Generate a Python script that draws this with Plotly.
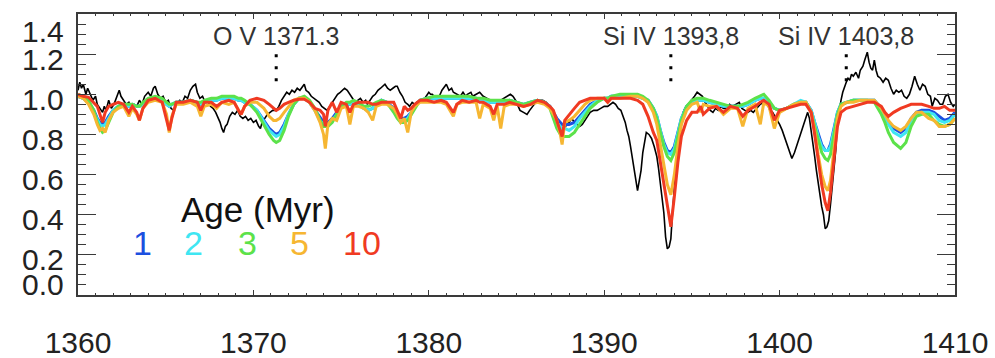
import plotly.graph_objects as go

# Observed spectrum (normalised flux)
obs_wave = [
    1360.0, 1360.1, 1360.2, 1360.3, 1360.45, 1360.55, 1360.7, 1360.85, 1361.0, 1361.1,
    1361.25, 1361.4, 1361.5, 1361.6, 1361.75, 1361.9, 1362.05, 1362.2, 1362.35, 1362.45,
    1362.6, 1362.75, 1362.9, 1363.05, 1363.2, 1363.35, 1363.5, 1363.65, 1363.8, 1364.0,
    1364.15, 1364.3, 1364.4, 1364.55, 1364.7, 1364.85, 1365.0, 1365.15, 1365.3, 1365.45,
    1365.6, 1365.8, 1365.95, 1366.1, 1366.25, 1366.4, 1366.55, 1366.7, 1366.8, 1366.95,
    1367.1, 1367.25, 1367.4, 1367.55, 1367.7, 1367.85, 1368.0, 1368.1, 1368.2, 1368.3,
    1368.4, 1368.5, 1368.65, 1368.8, 1368.95, 1369.1, 1369.25, 1369.4, 1369.55, 1369.7,
    1369.85, 1370.0, 1370.15, 1370.3, 1370.4, 1370.5, 1370.65, 1370.8, 1370.95, 1371.1,
    1371.3, 1371.45, 1371.6, 1371.75, 1371.9, 1372.05, 1372.2, 1372.35, 1372.5, 1372.65,
    1372.8, 1372.9, 1373.0, 1373.15, 1373.3, 1373.45, 1373.6, 1373.75, 1373.9, 1374.05,
    1374.2, 1374.35, 1374.5, 1374.65, 1374.8, 1374.95, 1375.1, 1375.2, 1375.35, 1375.5,
    1375.65, 1375.8, 1375.95, 1376.1, 1376.25, 1376.4, 1376.5, 1376.65, 1376.8, 1376.95,
    1377.1, 1377.25, 1377.4, 1377.5, 1377.65, 1377.8, 1377.95, 1378.1, 1378.2, 1378.35,
    1378.5, 1378.65, 1378.8, 1378.9, 1379.05, 1379.2, 1379.3, 1379.5, 1379.7, 1379.85,
    1380.0, 1380.1, 1380.2, 1380.4, 1380.6, 1380.75, 1380.9, 1381.0, 1381.15, 1381.3,
    1381.4, 1381.6, 1381.8, 1381.95, 1382.1, 1382.2, 1382.4, 1382.5, 1382.7, 1382.9,
    1383.1, 1383.3, 1383.5, 1383.7, 1383.9, 1384.1, 1384.3, 1384.5, 1384.65, 1384.8,
    1384.95, 1385.1, 1385.2, 1385.4, 1385.6, 1385.75, 1385.9, 1386.1, 1386.3, 1386.5,
    1386.7, 1386.9, 1387.1, 1387.25, 1387.4, 1387.55, 1387.7, 1387.85, 1388.0, 1388.15,
    1388.3, 1388.45, 1388.6, 1388.75, 1388.9, 1389.05, 1389.2, 1389.4, 1389.6, 1389.8,
    1390.0, 1390.2, 1390.35, 1390.5, 1390.65, 1390.8, 1390.95, 1391.1, 1391.2, 1391.3,
    1391.4, 1391.5, 1391.6, 1391.7, 1391.8, 1391.9, 1392.0, 1392.1, 1392.2, 1392.3,
    1392.4, 1392.55, 1392.7, 1392.85, 1393.0, 1393.1, 1393.2, 1393.3, 1393.4, 1393.5,
    1393.6, 1393.7, 1393.8, 1393.9, 1394.0, 1394.1, 1394.2, 1394.3, 1394.4, 1394.5,
    1394.6, 1394.7, 1394.85, 1395.0, 1395.15, 1395.3, 1395.45, 1395.6, 1395.75, 1395.9,
    1396.05, 1396.2, 1396.35, 1396.5, 1396.65, 1396.8, 1397.0, 1397.15, 1397.3, 1397.5,
    1397.7, 1397.85, 1398.0, 1398.2, 1398.35, 1398.5, 1398.7, 1398.9, 1399.1, 1399.3,
    1399.45, 1399.6, 1399.8, 1400.0, 1400.15, 1400.3, 1400.45, 1400.6, 1400.7, 1400.85,
    1401.0, 1401.15, 1401.3, 1401.45, 1401.6, 1401.7, 1401.8, 1401.9, 1402.0, 1402.1,
    1402.2, 1402.3, 1402.4, 1402.5, 1402.6, 1402.7, 1402.8, 1402.9, 1403.0, 1403.1,
    1403.2, 1403.3, 1403.4, 1403.5, 1403.6, 1403.7, 1403.8, 1403.9, 1404.0, 1404.1,
    1404.2, 1404.35, 1404.5, 1404.6, 1404.75, 1404.85, 1405.0, 1405.1, 1405.2, 1405.3,
    1405.4, 1405.5, 1405.6, 1405.75, 1405.9, 1406.05, 1406.2, 1406.35, 1406.5, 1406.65,
    1406.8, 1406.95, 1407.1, 1407.25, 1407.4, 1407.55, 1407.7, 1407.85, 1408.0, 1408.15,
    1408.3, 1408.45, 1408.6, 1408.7, 1408.85, 1409.0, 1409.15, 1409.3, 1409.45, 1409.6,
    1409.75, 1409.9, 1410.0,
]
obs_flux = [
    1.02, 1.06, 1.03, 1.05, 1.00, 1.03, 1.00, 0.97, 0.99, 0.95,
    0.93, 0.91, 0.94, 0.92, 0.97, 0.93, 0.95, 0.99, 1.02, 0.99,
    0.97, 0.95, 0.96, 0.93, 0.95, 0.94, 0.97, 0.95, 0.99, 1.01,
    0.99, 1.03, 1.04, 1.00, 0.98, 0.99, 0.96, 0.97, 0.93, 0.92,
    0.95, 0.97, 0.96, 0.99, 0.98, 1.02, 1.04, 1.05, 1.01, 0.98,
    0.99, 0.96, 0.97, 0.94, 0.93, 0.91, 0.88, 0.86, 0.83, 0.81,
    0.84, 0.85, 0.89, 0.91, 0.90, 0.92, 0.89, 0.88, 0.89, 0.87,
    0.88, 0.86, 0.87, 0.84, 0.83, 0.86, 0.88, 0.90, 0.91, 0.92,
    0.92, 0.94, 0.97, 0.99, 1.01, 1.00, 1.02, 1.01, 1.03, 1.02,
    1.04, 1.05, 1.02, 1.01, 0.99, 0.98, 0.97, 0.96, 0.94, 0.93,
    0.92, 0.94, 0.96, 0.98, 1.00, 1.01, 1.02, 1.03, 1.02, 1.00,
    0.98, 0.96, 0.97, 0.98, 0.96, 0.97, 0.95, 0.97, 0.99, 1.00,
    1.02, 1.03, 1.04, 1.05, 1.03, 1.02, 1.03, 1.04, 1.04, 1.01,
    0.99, 0.96, 0.95, 0.94, 0.96, 0.95, 0.96, 0.97, 0.97, 0.99,
    1.01, 1.00, 1.00, 0.98, 0.99, 1.02, 1.04, 1.05, 1.02, 1.03,
    1.01, 1.00, 0.99, 1.01, 0.99, 1.00, 1.01, 0.99, 1.00, 1.01,
    0.99, 0.98, 0.97, 0.96, 0.96, 0.97, 0.98, 0.99, 1.00, 0.99,
    0.97, 0.94, 0.92, 0.91, 0.90, 0.92, 0.94, 0.96, 0.97, 0.97,
    0.96, 0.94, 0.92, 0.88, 0.84, 0.83, 0.82, 0.85, 0.86, 0.88,
    0.86, 0.85, 0.84, 0.85, 0.87, 0.89, 0.91, 0.92, 0.92, 0.93,
    0.94, 0.94, 0.95, 0.96, 0.95, 0.93, 0.92, 0.88, 0.86, 0.82,
    0.79, 0.74, 0.69, 0.63, 0.57, 0.52, 0.57, 0.62, 0.71, 0.77,
    0.81, 0.80, 0.78, 0.74, 0.69, 0.63, 0.56, 0.48, 0.41, 0.29,
    0.23, 0.24, 0.28, 0.42, 0.54, 0.64, 0.72, 0.79, 0.86, 0.91,
    0.93, 0.94, 0.96, 0.97, 0.99, 1.01, 1.00, 0.99, 0.96, 0.94,
    0.92, 0.91, 0.93, 0.92, 0.94, 0.93, 0.93, 0.95, 0.94, 0.95,
    0.96, 0.93, 0.92, 0.91, 0.92, 0.91, 0.93, 0.95, 0.96, 0.95,
    0.92, 0.91, 0.88, 0.85, 0.82, 0.78, 0.75, 0.70, 0.68, 0.71,
    0.75, 0.80, 0.84, 0.88, 0.91, 0.88, 0.82, 0.77, 0.69, 0.62,
    0.55, 0.49, 0.44, 0.40, 0.33, 0.34, 0.37, 0.45, 0.54, 0.63,
    0.72, 0.86, 0.92, 0.97, 1.01, 1.04, 1.06, 1.08, 1.07, 1.10,
    1.09, 1.11, 1.08, 1.12, 1.14, 1.17, 1.21, 1.16, 1.13, 1.12,
    1.17, 1.12, 1.09, 1.08, 1.06, 1.08, 1.07, 1.03, 1.00, 1.02,
    1.01, 1.02, 0.99, 0.98, 1.00, 1.04, 1.09, 1.05, 1.02, 1.05,
    1.04, 1.00, 0.99, 0.94, 0.98, 0.97, 0.95, 0.95, 0.99, 1.00,
    0.96, 0.94, 0.95,
]

# Synthetic population spectra on a common wavelength grid
model_wave = [
    1360.0, 1360.3, 1360.6, 1360.9, 1361.1, 1361.25, 1361.4, 1361.55, 1361.75, 1362.0,
    1362.3, 1362.6, 1362.9, 1363.1, 1363.35, 1363.5, 1363.7, 1364.0, 1364.4, 1364.8,
    1365.05, 1365.2, 1365.35, 1365.6, 1366.0, 1366.4, 1366.8, 1367.0, 1367.2, 1367.6,
    1367.9, 1368.2, 1368.6, 1368.9, 1369.15, 1369.3, 1369.5, 1369.8, 1370.2, 1370.6,
    1370.9, 1371.15, 1371.3, 1371.5, 1371.75, 1372.0, 1372.3, 1372.6, 1372.9, 1373.2,
    1373.5, 1373.8, 1374.0, 1374.1, 1374.25, 1374.5, 1374.75, 1375.0, 1375.3, 1375.5,
    1375.7, 1376.0, 1376.3, 1376.55, 1376.8, 1377.0, 1377.3, 1377.6, 1378.0, 1378.2,
    1378.4, 1378.6, 1378.8, 1379.0, 1379.2, 1379.5, 1379.9, 1380.3, 1380.7, 1381.0,
    1381.4, 1381.6, 1381.9, 1382.3, 1382.7, 1382.9, 1383.1, 1383.5, 1383.7, 1383.9,
    1384.1, 1384.3, 1384.6, 1385.0, 1385.4, 1385.8, 1386.2, 1386.6, 1386.9, 1387.1,
    1387.3, 1387.5, 1387.6, 1387.75, 1388.0, 1388.3, 1388.6, 1388.9, 1389.2, 1389.6,
    1390.0, 1390.2, 1390.4, 1390.9, 1391.5, 1391.9, 1392.2, 1392.5, 1392.8, 1393.0,
    1393.2, 1393.4, 1393.6, 1393.8, 1394.0, 1394.2, 1394.4, 1394.7, 1395.0, 1395.3,
    1395.5, 1395.65, 1396.0, 1396.4, 1396.8, 1397.2, 1397.6, 1397.9, 1398.2, 1398.6,
    1398.9, 1399.1, 1399.4, 1399.7, 1400.0, 1400.4, 1400.8, 1401.2, 1401.5, 1401.8,
    1402.0, 1402.2, 1402.4, 1402.6, 1402.75, 1402.9, 1403.1, 1403.3, 1403.5, 1403.8,
    1404.2, 1404.6, 1405.0, 1405.4, 1405.8, 1406.0, 1406.2, 1406.5, 1406.9, 1407.2,
    1407.5, 1407.8, 1408.1, 1408.5, 1408.8, 1409.1, 1409.4, 1409.7, 1410.0,
]
flux_1myr = [
    0.99, 0.98, 0.96, 0.92, 0.88, 0.86, 0.85, 0.86, 0.89, 0.92,
    0.94, 0.95, 0.94, 0.95, 0.94, 0.94, 0.95, 0.97, 0.98, 0.97,
    0.95, 0.94, 0.95, 0.96, 0.96, 0.97, 0.96, 0.95, 0.96, 0.97,
    0.97, 0.98, 0.98, 0.98, 0.97, 0.97, 0.96, 0.95, 0.92, 0.87,
    0.83, 0.81, 0.80, 0.81, 0.85, 0.90, 0.95, 0.98, 0.98, 0.96,
    0.92, 0.88, 0.86, 0.86, 0.86, 0.88, 0.91, 0.94, 0.95, 0.95,
    0.96, 0.95, 0.93, 0.92, 0.93, 0.95, 0.97, 0.96, 0.93, 0.90,
    0.88, 0.88, 0.89, 0.91, 0.94, 0.97, 0.98, 0.98, 0.98, 0.98,
    0.98, 0.98, 0.98, 0.98, 0.98, 0.97, 0.97, 0.96, 0.96, 0.96,
    0.96, 0.96, 0.97, 0.96, 0.95, 0.96, 0.97, 0.96, 0.94, 0.91,
    0.88, 0.86, 0.85, 0.85, 0.85, 0.86, 0.89, 0.92, 0.95, 0.97,
    0.98, 0.98, 0.99, 0.99, 0.99, 0.99, 0.98, 0.97, 0.93, 0.89,
    0.82, 0.76, 0.72, 0.71, 0.74, 0.81, 0.88, 0.94, 0.96, 0.97,
    0.97, 0.97, 0.96, 0.95, 0.94, 0.94, 0.94, 0.94, 0.95, 0.97,
    0.98, 0.98, 0.96, 0.93, 0.92, 0.93, 0.95, 0.96, 0.96, 0.92,
    0.86, 0.80, 0.75, 0.72, 0.72, 0.75, 0.83, 0.91, 0.95, 0.96,
    0.97, 0.97, 0.97, 0.97, 0.93, 0.90, 0.86, 0.83, 0.81, 0.83,
    0.88, 0.91, 0.92, 0.92, 0.91, 0.89, 0.87, 0.88, 0.91,
]
flux_2myr = [
    0.99, 0.98, 0.96, 0.91, 0.87, 0.85, 0.84, 0.85, 0.88, 0.92,
    0.94, 0.95, 0.94, 0.95, 0.94, 0.94, 0.95, 0.97, 0.98, 0.97,
    0.95, 0.94, 0.95, 0.96, 0.96, 0.97, 0.96, 0.95, 0.96, 0.97,
    0.97, 0.98, 0.98, 0.98, 0.97, 0.97, 0.96, 0.95, 0.92, 0.86,
    0.82, 0.80, 0.79, 0.80, 0.84, 0.90, 0.95, 0.98, 0.98, 0.96,
    0.92, 0.87, 0.85, 0.85, 0.85, 0.87, 0.90, 0.94, 0.95, 0.95,
    0.96, 0.95, 0.93, 0.92, 0.93, 0.95, 0.97, 0.96, 0.92, 0.89,
    0.87, 0.87, 0.88, 0.91, 0.94, 0.97, 0.98, 0.98, 0.98, 0.98,
    0.98, 0.98, 0.98, 0.98, 0.98, 0.97, 0.97, 0.96, 0.96, 0.96,
    0.96, 0.96, 0.97, 0.96, 0.95, 0.96, 0.97, 0.96, 0.94, 0.90,
    0.86, 0.84, 0.83, 0.83, 0.82, 0.84, 0.88, 0.91, 0.94, 0.97,
    0.98, 0.98, 0.99, 0.99, 0.99, 0.99, 0.98, 0.97, 0.93, 0.89,
    0.82, 0.75, 0.71, 0.70, 0.73, 0.81, 0.88, 0.94, 0.96, 0.97,
    0.97, 0.97, 0.96, 0.95, 0.94, 0.94, 0.94, 0.94, 0.95, 0.97,
    0.98, 0.98, 0.96, 0.93, 0.92, 0.93, 0.95, 0.97, 0.96, 0.92,
    0.86, 0.79, 0.74, 0.72, 0.72, 0.74, 0.82, 0.91, 0.95, 0.96,
    0.97, 0.97, 0.97, 0.97, 0.92, 0.89, 0.85, 0.81, 0.79, 0.81,
    0.87, 0.90, 0.91, 0.91, 0.90, 0.87, 0.86, 0.87, 0.90,
]
flux_3myr = [
    1.00, 0.99, 0.97, 0.92, 0.86, 0.83, 0.81, 0.82, 0.86, 0.91,
    0.94, 0.95, 0.95, 0.95, 0.94, 0.94, 0.96, 0.98, 0.99, 0.98,
    0.96, 0.95, 0.95, 0.96, 0.96, 0.97, 0.96, 0.96, 0.97, 0.98,
    0.98, 0.99, 0.99, 0.99, 0.98, 0.98, 0.97, 0.95, 0.91, 0.85,
    0.80, 0.77, 0.76, 0.77, 0.82, 0.89, 0.95, 0.98, 0.99, 0.97,
    0.93, 0.87, 0.84, 0.84, 0.84, 0.86, 0.90, 0.94, 0.96, 0.96,
    0.97, 0.96, 0.94, 0.94, 0.95, 0.96, 0.97, 0.96, 0.91, 0.88,
    0.86, 0.86, 0.87, 0.90, 0.93, 0.97, 0.98, 0.99, 0.99, 0.99,
    0.99, 0.99, 0.99, 0.99, 0.98, 0.98, 0.98, 0.97, 0.97, 0.97,
    0.97, 0.97, 0.97, 0.96, 0.95, 0.96, 0.97, 0.96, 0.93, 0.88,
    0.83, 0.80, 0.79, 0.79, 0.79, 0.81, 0.85, 0.89, 0.93, 0.96,
    0.98, 0.98, 0.99, 1.00, 1.00, 1.00, 0.99, 0.97, 0.93, 0.88,
    0.81, 0.74, 0.69, 0.67, 0.71, 0.79, 0.87, 0.94, 0.97, 0.98,
    0.98, 0.98, 0.97, 0.96, 0.95, 0.94, 0.94, 0.95, 0.96, 0.98,
    0.99, 1.00, 0.97, 0.93, 0.92, 0.93, 0.95, 0.96, 0.96, 0.91,
    0.84, 0.77, 0.71, 0.68, 0.67, 0.70, 0.80, 0.90, 0.95, 0.96,
    0.97, 0.97, 0.97, 0.96, 0.90, 0.86, 0.81, 0.76, 0.73, 0.76,
    0.84, 0.89, 0.90, 0.90, 0.87, 0.85, 0.84, 0.85, 0.88,
]
flux_5myr = [
    0.99, 0.98, 0.95, 0.90, 0.85, 0.82, 0.83, 0.81, 0.87, 0.91,
    0.93, 0.94, 0.89, 0.93, 0.90, 0.87, 0.93, 0.96, 0.97, 0.96,
    0.90, 0.81, 0.89, 0.95, 0.95, 0.96, 0.94, 0.89, 0.94, 0.95,
    0.93, 0.96, 0.95, 0.96, 0.92, 0.90, 0.94, 0.96, 0.96, 0.93,
    0.89, 0.87, 0.87, 0.88, 0.91, 0.94, 0.97, 0.98, 0.98, 0.96,
    0.92, 0.86, 0.80, 0.73, 0.85, 0.88, 0.87, 0.93, 0.94, 0.85,
    0.94, 0.94, 0.93, 0.91, 0.87, 0.94, 0.95, 0.95, 0.93, 0.90,
    0.86, 0.88, 0.81, 0.91, 0.94, 0.96, 0.96, 0.96, 0.96, 0.95,
    0.89, 0.95, 0.96, 0.96, 0.96, 0.88, 0.95, 0.93, 0.87, 0.94,
    0.83, 0.94, 0.95, 0.95, 0.94, 0.95, 0.96, 0.95, 0.93, 0.90,
    0.87, 0.80, 0.75, 0.86, 0.87, 0.89, 0.92, 0.95, 0.97, 0.98,
    0.98, 0.96, 0.98, 0.98, 0.99, 0.99, 0.98, 0.96, 0.91, 0.85,
    0.75, 0.65, 0.55, 0.50, 0.60, 0.74, 0.85, 0.92, 0.95, 0.96,
    0.91, 0.95, 0.94, 0.94, 0.90, 0.93, 0.93, 0.84, 0.93, 0.95,
    0.85, 0.96, 0.94, 0.83, 0.91, 0.93, 0.95, 0.96, 0.96, 0.91,
    0.82, 0.70, 0.60, 0.54, 0.52, 0.57, 0.72, 0.88, 0.94, 0.96,
    0.96, 0.97, 0.97, 0.97, 0.93, 0.90, 0.87, 0.84, 0.82, 0.84,
    0.88, 0.91, 0.91, 0.88, 0.87, 0.84, 0.84, 0.85, 0.88,
]
flux_10myr = [
    1.00, 0.99, 0.985, 0.96, 0.94, 0.90, 0.86, 0.91, 0.94, 0.95,
    0.96, 0.95, 0.91, 0.94, 0.91, 0.87, 0.93, 0.97, 0.98, 0.96,
    0.88, 0.82, 0.88, 0.96, 0.96, 0.97, 0.96, 0.92, 0.96, 0.96,
    0.94, 0.96, 0.97, 0.96, 0.92, 0.90, 0.94, 0.97, 0.98, 0.97,
    0.95, 0.93, 0.92, 0.93, 0.95, 0.96, 0.97, 0.975, 0.975, 0.96,
    0.93, 0.92, 0.90, 0.84, 0.92, 0.96, 0.91, 0.96, 0.95, 0.91,
    0.95, 0.96, 0.96, 0.96, 0.95, 0.95, 0.96, 0.96, 0.96, 0.92,
    0.88, 0.94, 0.92, 0.93, 0.95, 0.97, 0.97, 0.96, 0.97, 0.96,
    0.91, 0.95, 0.97, 0.96, 0.97, 0.96, 0.96, 0.94, 0.90, 0.95,
    0.95, 0.95, 0.96, 0.95, 0.94, 0.95, 0.97, 0.96, 0.94, 0.92,
    0.87, 0.81, 0.79, 0.87, 0.90, 0.93, 0.96, 0.97, 0.98, 0.98,
    0.98, 0.96, 0.98, 0.98, 0.98, 0.97, 0.95, 0.89, 0.81, 0.77,
    0.66, 0.55, 0.43, 0.34, 0.49, 0.66, 0.79, 0.87, 0.91, 0.91,
    0.94, 0.90, 0.93, 0.94, 0.91, 0.94, 0.93, 0.89, 0.92, 0.94,
    0.96, 0.97, 0.95, 0.87, 0.92, 0.93, 0.94, 0.95, 0.95, 0.91,
    0.80, 0.66, 0.55, 0.46, 0.42, 0.51, 0.67, 0.84, 0.91, 0.93,
    0.94, 0.95, 0.96, 0.96, 0.94, 0.91, 0.89, 0.91, 0.93, 0.94,
    0.95, 0.95, 0.95, 0.94, 0.93, 0.93, 0.94, 0.92, 0.92,
]

ages = ["1", "2", "3", "5", "10"]
model_fluxes = [flux_1myr, flux_2myr, flux_3myr, flux_5myr, flux_10myr]
age_colors = ["#1c4fe0", "#3fe6f2", "#5ce24a", "#f6b632", "#f03a22"]

# Line identifications
line_names = ["O V 1371.3", "Si IV 1393,8", "Si IV 1403,8"]
line_waves = [1371.3, 1393.8, 1403.8]

y_ticks = [0.0, 0.2, 0.4, 0.6, 0.8, 1.0, 1.2, 1.4]
y_tick_text = ["0.0", "0.2", "0.4", "0.6", "0.8", "1.0", "1.2", "1.4"]

FONT = "Liberation Sans, Arial, Helvetica, sans-serif"
AXIS_COLOR = "#3a3a3a"

fig = go.Figure()

fig.add_trace(go.Scatter(
    x=obs_wave, y=obs_flux, mode="lines",
    line=dict(color="black", width=1.6), showlegend=False,
))
for age, flux, col in zip(ages, model_fluxes, age_colors):
    fig.add_trace(go.Scatter(
        x=model_wave, y=flux, mode="lines", name=age,
        line=dict(color=col, width=3), showlegend=False,
    ))

annotations = []

# y tick labels, the end ones pulled inside the frame
for val, txt in zip(y_ticks, y_tick_text):
    if val == y_ticks[-1]:
        shift = -17
    elif val == y_ticks[0]:
        shift = 11
    else:
        shift = -5
    annotations.append(dict(
        x=0, xref="paper", xanchor="right", xshift=-12,
        y=val, yref="y", yanchor="middle", yshift=shift,
        text=txt, showarrow=False,
        font=dict(family=FONT, size=30, color="#222"),
    ))

# line identification labels with dotted markers
shapes = []
for name, wl in zip(line_names, line_waves):
    annotations.append(dict(
        x=wl, y=1.29, xref="x", yref="y", text=name, showarrow=False,
        xanchor="center", yanchor="middle",
        font=dict(family=FONT, size=25, color="#333"),
    ))
    shapes.append(dict(
        type="line", x0=wl, x1=wl, y0=1.2, y1=1.02, xref="x", yref="y",
        line=dict(color="black", width=3, dash="3px,9px"), layer="below",
    ))

# age key
annotations.append(dict(
    x=1370.26, y=0.425, xref="x", yref="y", text="Age (Myr)", showarrow=False,
    xanchor="center", yanchor="middle",
    font=dict(family=FONT, size=35, color="#111"),
))
key_x = [1363.65, 1366.6, 1369.65, 1372.6, 1376.2]
for age, col, kx in zip(ages, age_colors, key_x):
    annotations.append(dict(
        x=kx, y=0.26, xref="x", yref="y", text=age, showarrow=False,
        xanchor="center", yanchor="middle",
        font=dict(family=FONT, size=34, color=col),
    ))

fig.update_layout(
    width=995, height=358,
    margin=dict(l=78, r=40, t=14, b=63, autoexpand=False),
    paper_bgcolor="white", plot_bgcolor="white",
    font=dict(family=FONT),
    annotations=annotations, shapes=shapes,
    showlegend=False,
)
fig.update_xaxes(
    range=[1360, 1410], tick0=1360, dtick=10,
    showline=True, linecolor=AXIS_COLOR, linewidth=1.5, mirror="ticks",
    ticks="inside", ticklen=5, tickwidth=1.3, tickcolor=AXIS_COLOR,
    minor=dict(ticks="inside", ticklen=2.5, dtick=1, tickcolor=AXIS_COLOR, tickwidth=1),
    tickfont=dict(family=FONT, size=30, color="#222"),
    ticklabelstandoff=20, automargin=False,
    showgrid=False, zeroline=False,
)
fig.update_yaxes(
    range=[0, 1.4], tick0=0, dtick=0.2,
    showline=True, linecolor=AXIS_COLOR, linewidth=1.5, mirror="ticks",
    ticks="inside", ticklen=18, tickwidth=1.3, tickcolor=AXIS_COLOR,
    minor=dict(ticks="inside", ticklen=8, dtick=0.05, tickcolor=AXIS_COLOR, tickwidth=1),
    showticklabels=False, automargin=False,
    showgrid=False, zeroline=False,
)

fig.write_html("out.html")
